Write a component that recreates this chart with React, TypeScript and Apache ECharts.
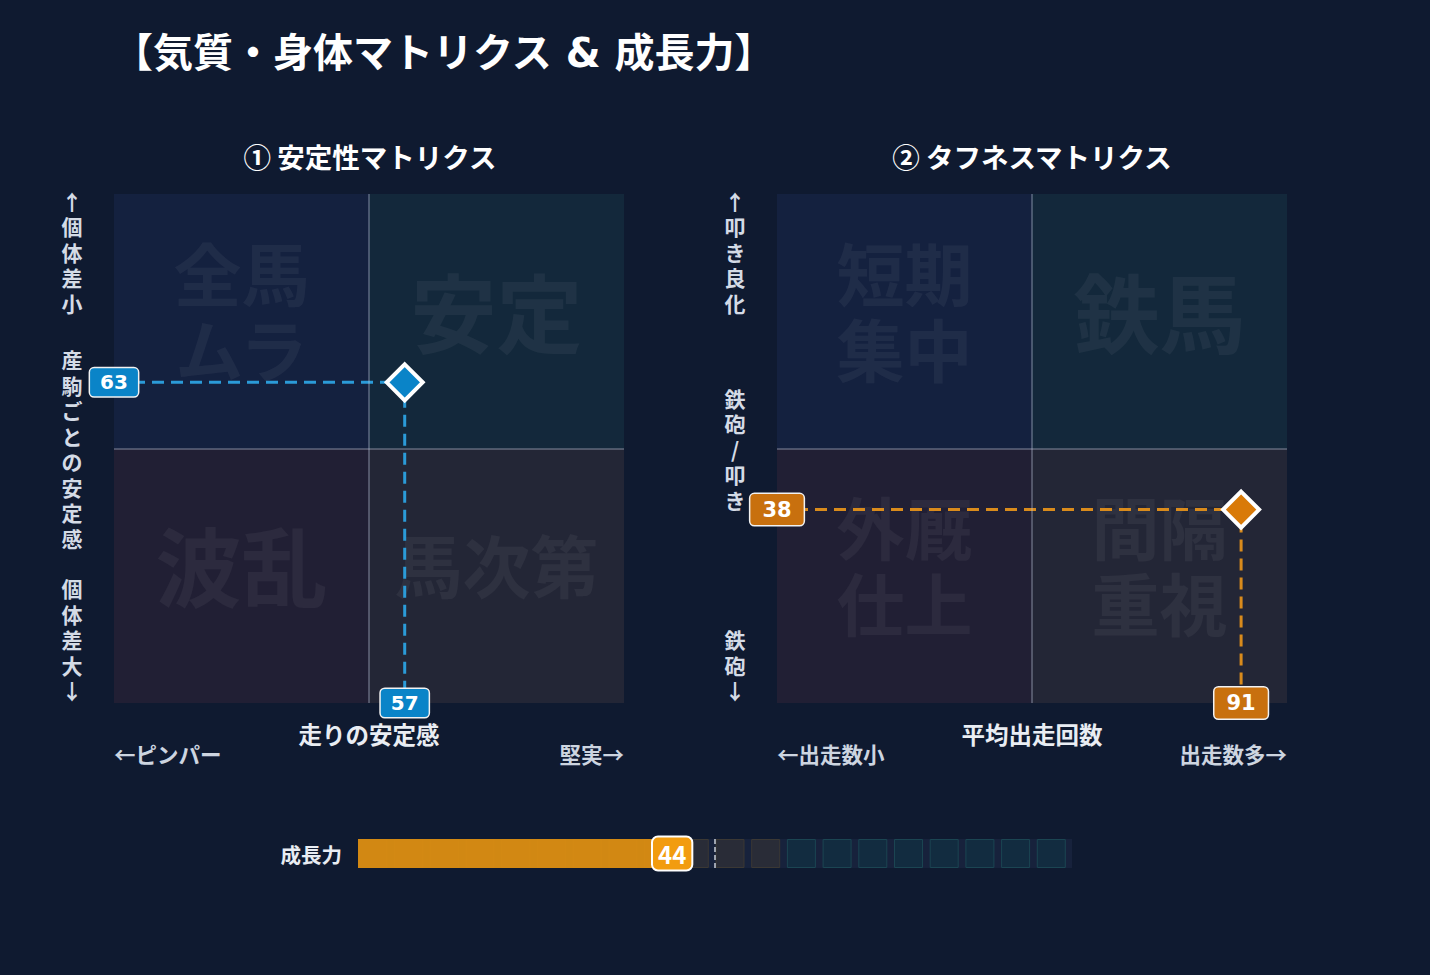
import React, { useEffect, useRef } from 'react';
import * as echarts from 'echarts';

// ---------- data ----------
const titleText = '【気質・身体マトリクス & 成長力】';

const stabilityTitle = '① 安定性マトリクス';
const stabilityXName = '走りの安定感';
const stabilityXEnds = ['←ピンパー', '堅実→'];
const stabilityYLabels = ['個体差大↓', '産駒ごとの安定感', '↑個体差小']; // bottom, middle, top
const stabilityQuadrants = ['波乱', '馬次第', '全馬\nムラ', '安定']; // BL, BR, TL, TR
const stabilityPoint = [57, 63];

const toughTitle = '② タフネスマトリクス';
const toughXName = '平均出走回数';
const toughXEnds = ['←出走数小', '出走数多→'];
const toughYLabels = ['鉄砲↓', '鉄砲/叩き', '↑叩き良化'];
const toughQuadrants = ['外厩\n仕上', '間隔\n重視', '短期\n集中', '鉄馬'];
const toughPoint = [91, 38];

const growthName = '成長力';
const growthValue = 44;
const growthMid = 50;
const growthCellStarts = [0, 5, 10, 15, 20, 25, 30, 35, 40, 45, 50, 55, 60, 65, 70, 75, 80, 85, 90, 95];
const growthCellSize = 5;
const growthTealFrom = 60;

// ---------- styles ----------
const FONT = "'DejaVu Sans', 'Noto Sans CJK JP', sans-serif";
const CJK = "'Noto Sans CJK JP', 'Noto Sans', sans-serif";
const NUM_FONT = "'DejaVu Sans', sans-serif";
const BG = '#0f1a30';
const AX_MIN = 0;
const AX_MAX = 100;
const AX_MID = 50;
const QUAD_COLORS = ['#211f34', '#232636', '#14213f', '#13283b'];
const DIVIDER = 'rgba(190,200,220,0.32)';

const BLUE = { point: '#0a84c8', line: '#2b9bd8', box: '#0a84c8' };
const ORANGE = { point: '#d97a08', line: '#d98b1c', box: '#c8700e' };

function matrixX(gridIndex: number, name: string, ends: string[]) {
  return {
    gridIndex,
    type: 'value',
    min: AX_MIN,
    max: AX_MAX,
    interval: AX_MID,
    axisLine: { show: false },
    axisTick: { show: false },
    splitLine: { show: false },
    axisLabel: {
      formatter: (v: number) => (v === AX_MIN ? ends[0] : v === AX_MAX ? ends[1] : ''),
      alignMinLabel: 'left',
      alignMaxLabel: 'right',
      margin: 40,
      color: '#cdd5e0',
      fontSize: 21.5,
      fontWeight: 'bold',
      fontFamily: CJK,
    },
    name,
    nameLocation: 'middle',
    nameGap: 19,
    nameMoveOverlap: false,
    nameTextStyle: { color: '#e9edf3', fontSize: 23.5, fontWeight: 'bold', fontFamily: CJK },
  };
}

function matrixY(gridIndex: number, labels: string[]) {
  return {
    gridIndex,
    type: 'value',
    min: AX_MIN,
    max: AX_MAX,
    interval: AX_MID,
    axisLine: { show: false },
    axisTick: { show: false },
    splitLine: { show: false },
    axisLabel: {
      formatter: (v: number) => (labels[Math.round(v / AX_MID)] || '').split('').join('\n'),
      align: 'center',
      verticalAlignMinLabel: 'bottom',
      verticalAlignMaxLabel: 'top',
      margin: 42,
      lineHeight: 25.5,
      padding: [-6, 0, 0, 0],
      color: '#d4dbe6',
      fontSize: 21,
      fontWeight: 'bold',
      fontFamily: CJK,
    },
  };
}

function matrixSeries(idx: number, point: number[], quads: string[], pal: any, boxPad: number[], boxFont: number) {
  const boxes = [
    [[AX_MIN, AX_MIN], [AX_MID, AX_MID]],
    [[AX_MID, AX_MIN], [AX_MAX, AX_MID]],
    [[AX_MIN, AX_MID], [AX_MID, AX_MAX]],
    [[AX_MID, AX_MID], [AX_MAX, AX_MAX]],
  ];
  const areaData = quads.map((q, i) => {
    const big = !q.includes('\n') && q.length <= 2;
    return [
      {
        name: q,
        xAxis: boxes[i][0][0],
        yAxis: boxes[i][0][1],
        itemStyle: { color: QUAD_COLORS[i] },
        label: {
          show: true,
          position: 'inside',
          offset: [0, -12],
          fontSize: big ? 86 : 68,
          lineHeight: 76,
          fontWeight: 'bold',
          fontFamily: CJK,
          color: 'rgba(255,255,255,0.05)',
        },
      },
      { xAxis: boxes[i][1][0], yAxis: boxes[i][1][1] },
    ];
  });
  return [
    {
      type: 'scatter',
      xAxisIndex: idx,
      yAxisIndex: idx,
      data: [[AX_MID, AX_MID]],
      symbolSize: 0,
      silent: true,
      z: 1,
      markArea: { silent: true, data: areaData },
      markLine: {
        silent: true,
        symbol: ['none', 'none'],
        label: { show: false },
        lineStyle: { color: DIVIDER, width: 2, type: 'solid', opacity: 1 },
        data: [{ xAxis: AX_MID }, { yAxis: AX_MID }],
      },
    },
    {
      type: 'line',
      xAxisIndex: idx,
      yAxisIndex: idx,
      data: [[AX_MIN, point[1]], [point[0], point[1]], [point[0], AX_MIN]],
      symbol: 'none',
      clip: false,
      silent: true,
      z: 3,
      lineStyle: { color: pal.line, width: 3, type: [12, 7], opacity: 1 },
    },
    {
      type: 'scatter',
      xAxisIndex: idx,
      yAxisIndex: idx,
      data: [point],
      symbol: 'diamond',
      symbolSize: 36,
      clip: false,
      z: 5,
      itemStyle: { color: pal.point, borderColor: '#ffffff', borderWidth: 4, opacity: 1 },
    },
    {
      type: 'scatter',
      xAxisIndex: idx,
      yAxisIndex: idx,
      data: [
        { name: String(point[1]), value: [AX_MIN, point[1]] },
        { name: String(point[0]), value: [point[0], AX_MIN] },
      ],
      symbolSize: 0,
      clip: false,
      z: 6,
      itemStyle: { opacity: 1 },
      label: {
        show: true,
        position: 'inside',
        formatter: '{b}',
        color: '#ffffff',
        fontFamily: NUM_FONT,
        fontWeight: 'bold',
        fontSize: boxFont,
        lineHeight: boxFont,
        backgroundColor: pal.box,
        borderColor: '#f2f2f2',
        borderWidth: 1.5,
        borderRadius: 4,
        padding: boxPad,
        opacity: 1,
      },
    },
  ];
}

function buildOption() {
  const cellData = growthCellStarts.map((s) => [s, 0, s >= growthTealFrom ? 1 : 0]);
  return {
    backgroundColor: BG,
    animation: false,
    grid: [
      { left: 114, top: 194, width: 510, height: 509 },
      { left: 777, top: 194, width: 510, height: 509 },
      { left: 358, top: 839, width: 714, height: 29 },
    ],
    xAxis: [
      matrixX(0, stabilityXName, stabilityXEnds),
      matrixX(1, toughXName, toughXEnds),
      { gridIndex: 2, type: 'value', min: AX_MIN, max: AX_MAX, show: false },
    ],
    yAxis: [
      matrixY(0, stabilityYLabels),
      matrixY(1, toughYLabels),
      {
        gridIndex: 2,
        type: 'category',
        data: [growthName],
        axisLine: { show: false },
        axisTick: { show: false },
        axisLabel: { margin: 16, color: '#e9edf3', fontSize: 20.5, fontWeight: 'bold', fontFamily: CJK },
      },
    ],
    graphic: [
      {
        type: 'text',
        x: 113,
        y: 53,
        style: { text: titleText, fill: '#ffffff', fontSize: 40, fontWeight: 'bold', fontFamily: FONT, verticalAlign: 'middle' },
      },
      {
        type: 'text',
        x: 370,
        y: 156,
        style: { text: stabilityTitle, fill: '#ffffff', fontSize: 27.5, fontWeight: 'bold', fontFamily: CJK, align: 'center', verticalAlign: 'middle' },
      },
      {
        type: 'text',
        x: 1032,
        y: 156,
        style: { text: toughTitle, fill: '#ffffff', fontSize: 27.5, fontWeight: 'bold', fontFamily: CJK, align: 'center', verticalAlign: 'middle' },
      },
    ],
    series: [
      ...matrixSeries(0, stabilityPoint, stabilityQuadrants, BLUE, [4, 10], 20),
      ...matrixSeries(1, toughPoint, toughQuadrants, ORANGE, [5, 12], 21),
      {
        type: 'bar',
        xAxisIndex: 2,
        yAxisIndex: 2,
        data: [AX_MAX],
        barWidth: 29,
        silent: true,
        z: 1,
        itemStyle: { color: '#17223c' },
      },
      {
        type: 'custom',
        xAxisIndex: 2,
        yAxisIndex: 2,
        data: cellData,
        encode: { x: 0, y: 1 },
        silent: true,
        z: 2,
        renderItem: (params: any, api: any) => {
          const start = api.value(0);
          const teal = api.value(2) === 1;
          const p = api.coord([start, 0]);
          const sz = api.size([growthCellSize, 1]);
          const w = sz[0] * 0.784;
          const h = 29;
          return {
            type: 'rect',
            shape: { x: p[0] + 1, y: p[1] - h / 2 + 0.5, width: w, height: h - 1 },
            style: {
              fill: teal ? '#122c40' : '#292c37',
              stroke: teal ? '#1b4552' : '#3b3834',
              lineWidth: 1,
            },
          };
        },
      },
      {
        type: 'bar',
        xAxisIndex: 2,
        yAxisIndex: 2,
        data: [growthValue],
        barWidth: 29,
        barGap: '-100%',
        silent: true,
        z: 3,
        itemStyle: { color: '#da8c12', opacity: 0.96 },
      },
      {
        type: 'scatter',
        xAxisIndex: 2,
        yAxisIndex: 2,
        data: [{ name: String(growthValue), value: [growthValue, 0] }],
        symbolSize: 0,
        clip: false,
        z: 6,
        itemStyle: { opacity: 1 },
        label: {
          show: true,
          position: 'inside',
          formatter: '{b}',
          color: '#ffffff',
          fontFamily: CJK,
          fontWeight: 'bold',
          fontSize: 24,
          lineHeight: 26,
          backgroundColor: '#f29c0f',
          borderColor: '#ffffff',
          borderWidth: 2,
          borderRadius: 5,
          padding: [3, 5],
          opacity: 1,
        },
        markLine: {
          silent: true,
          symbol: ['none', 'none'],
          label: { show: false },
          lineStyle: { color: 'rgba(200,205,215,0.75)', width: 2, type: [5, 3], opacity: 1 },
          data: [{ xAxis: growthMid }],
        },
      },
    ],
  };
}

export default function App() {
  const ref = useRef<HTMLDivElement>(null);
  useEffect(() => {
    const chart = echarts.init(ref.current!, null, { renderer: 'svg' });
    chart.setOption(buildOption() as any);
    return () => chart.dispose();
  }, []);
  return <div ref={ref} style={{ position: 'absolute', left: 0, top: 0, width: 1430, height: 975 }} />;
}
